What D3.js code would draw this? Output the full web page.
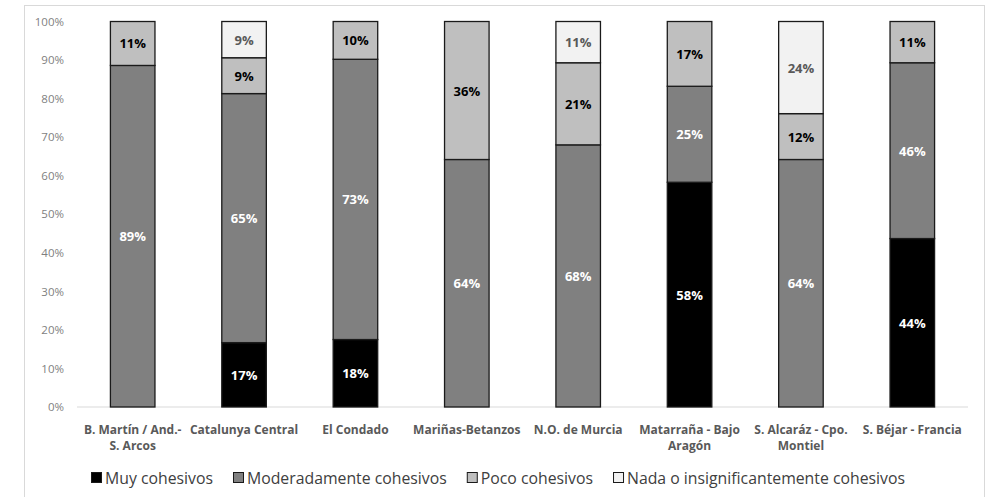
<!DOCTYPE html>
<html>
<head>
<meta charset="utf-8">
<script src="https://cdn.jsdelivr.net/npm/d3@7"></script>
<style>
  body { margin: 0; background: #fff; }
  text { font-family: "Open Sans", sans-serif; }
</style>
</head>
<body>
<div id="chart"></div>
<script>
// "\n" marks where the category label breaks onto a second line
var categories = ["B. Martín / And.-\nS. Arcos", "Catalunya Central", "El Condado", "Mariñas-Betanzos",
                  "N.O. de Murcia", "Matarraña - Bajo\nAragón", "S. Alcaráz - Cpo.\nMontiel", "S. Béjar - Francia"];
var seriesNames = ["Muy cohesivos", "Moderadamente cohesivos", "Poco cohesivos", "Nada o insignificantemente cohesivos"];
var muy       = [0, 16.7, 17.5, 0, 0, 58.3, 0, 43.7];
var moderados = [88.6, 64.6, 72.7, 64.2, 68.0, 24.9, 64.2, 45.6];
var poco      = [11.4, 9.3, 9.8, 35.8, 21.3, 16.8, 11.9, 10.7];
var nada      = [0, 9.4, 0, 0, 10.7, 0, 23.9, 0];
var yTicks    = [0, 10, 20, 30, 40, 50, 60, 70, 80, 90, 100];

var width = 987, height = 497;
var margin = { top: 21.5, right: 19, bottom: 90, left: 77 };

var svg = d3.select("#chart").append("svg")
    .attr("width", width)
    .attr("height", height);

// chart frame
svg.append("rect")
    .attr("x", 24.5).attr("y", 5.5)
    .attr("width", 960).attr("height", 520)
    .attr("fill", "none").attr("stroke", "#d9d9d9");

var rows = categories.map(function (c, i) {
    return { cat: c, "Muy cohesivos": muy[i], "Moderadamente cohesivos": moderados[i],
             "Poco cohesivos": poco[i], "Nada o insignificantemente cohesivos": nada[i] };
});

var x = d3.scaleBand()
    .domain(categories)
    .range([margin.left, width - margin.right])
    .paddingInner(0.6)
    .paddingOuter(0.3);

var y = d3.scaleLinear()
    .domain([0, 100])
    .range([height - margin.bottom, margin.top]);

var color = d3.scaleOrdinal().domain(seriesNames)
    .range(["#000000", "#808080", "#bfbfbf", "#f2f2f2"]);
var labelColor = d3.scaleOrdinal().domain(seriesNames)
    .range(["#ffffff", "#ffffff", "#000000", "#595959"]);

// y axis
var yAxis = svg.append("g")
    .attr("transform", "translate(" + margin.left + ",0)")
    .call(d3.axisLeft(y).tickValues(yTicks).tickSize(0).tickPadding(13)
        .tickFormat(function (d) { return d + "%"; }));
yAxis.select(".domain").remove();
yAxis.selectAll("text")
    .attr("fill", "#7f7f7f")
    .style("font-size", "11.5px");

// baseline
svg.append("line")
    .attr("x1", margin.left).attr("x2", width - margin.right)
    .attr("y1", y(0)).attr("y2", y(0))
    .attr("stroke", "#d9d9d9").attr("stroke-width", 1.2);

var stacked = d3.stack().keys(seriesNames)(rows);

var layer = svg.selectAll(".layer")
    .data(stacked)
    .enter().append("g")
    .attr("class", "layer");

layer.selectAll("rect")
    .data(function (d) { return d.filter(function (s) { return s[1] - s[0] > 0; }); })
    .enter().append("rect")
    .attr("x", function (d) { return x(d.data.cat); })
    .attr("width", x.bandwidth())
    .attr("y", function (d) { return y(d[1]); })
    .attr("height", function (d) { return y(d[0]) - y(d[1]); })
    .attr("fill", function () { return color(d3.select(this.parentNode).datum().key); })
    .attr("stroke", "#1a1a1a")
    .attr("stroke-width", 1.3);

// data labels
layer.selectAll("text")
    .data(function (d) {
        return d.filter(function (s) { return s[1] - s[0] > 0; })
                .map(function (s) { s.key = d.key; return s; });
    })
    .enter().append("text")
    .attr("x", function (d) { return x(d.data.cat) + x.bandwidth() / 2; })
    .attr("y", function (d) { return (y(d[0]) + y(d[1])) / 2; })
    .attr("text-anchor", "middle")
    .attr("dominant-baseline", "central")
    .attr("fill", function (d) { return labelColor(d.key); })
    .style("font-size", "13px")
    .style("font-weight", 700)
    .text(function (d) { return Math.round(d[1] - d[0]) + "%"; });

// category labels
svg.selectAll(".xlab")
    .data(categories)
    .enter().append("text")
    .attr("class", "xlab")
    .attr("y", 434)
    .attr("text-anchor", "middle")
    .attr("fill", "#595959")
    .style("font-size", "12px")
    .style("font-weight", 700)
    .each(function (d) {
        var t = d3.select(this);
        d.split("\n").forEach(function (l, i) {
            t.append("tspan")
                .attr("x", x(d) + x.bandwidth() / 2)
                .attr("dy", i === 0 ? 0 : 16)
                .text(l);
        });
    });

// legend
var legend = svg.append("g");
var lx = 0;
seriesNames.forEach(function (name) {
    var g = legend.append("g").attr("transform", "translate(" + lx + ",0)");
    g.append("rect")
        .attr("x", 0.5).attr("y", -5.5)
        .attr("width", 10).attr("height", 10)
        .attr("fill", color(name))
        .attr("stroke", "#1a1a1a").attr("stroke-width", 1);
    var t = g.append("text")
        .attr("x", 14).attr("y", 0)
        .attr("dominant-baseline", "central")
        .attr("fill", "#404040")
        .style("font-size", "15.8px")
        .text(name);
    lx += 14 + t.node().getComputedTextLength() + 20;
});
lx -= 20;
legend.attr("transform", "translate(" + (498 - lx / 2) + ",478)");
</script>
</body>
</html>
